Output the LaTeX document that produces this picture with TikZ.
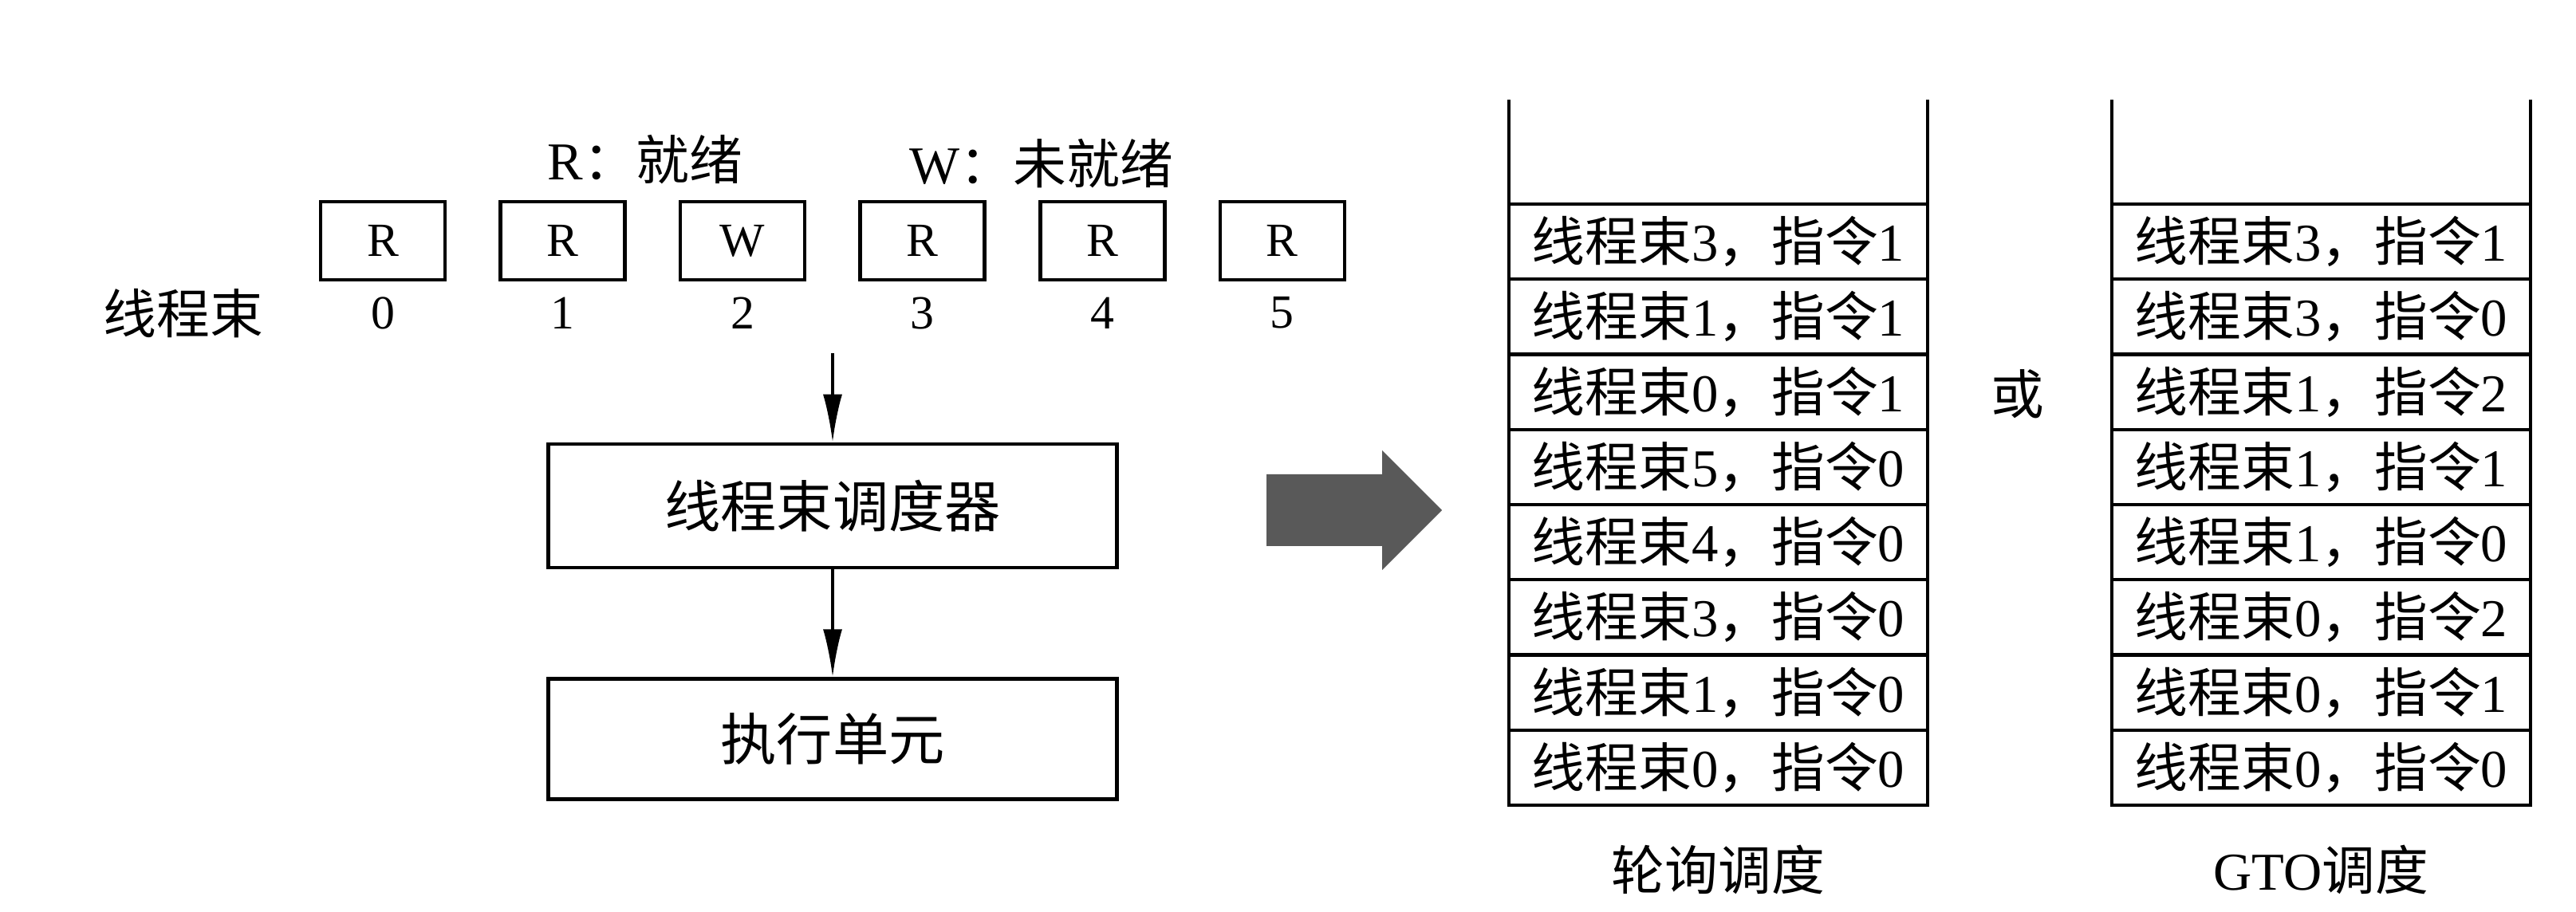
\documentclass[tikz,border=0pt]{standalone}
\usepackage{fontspec}
\setmainfont{Liberation Serif}
\newfontfamily\cjk{Noto Sans CJK SC}
\usepackage{tikz}
\usetikzlibrary{arrows.meta, positioning, calc}
\tikzstyle{arrow} = [line width=1pt, -{Latex[length=6mm,width=2.4mm]}]
\newcommand{\hz}[1]{{\cjk #1}}
\newcommand{\wi}[2]{\hz{线程束}#1\hz{，指令}#2}

\begin{document}
\begin{tikzpicture}[
	warp/.style={rectangle, draw=black, line width=1.3pt, minimum width=1.56cm, minimum height=0.98cm, font=\fontsize{17pt}{20pt}\selectfont},
	idx/.style={font=\fontsize{17pt}{20pt}\selectfont},
	unit/.style={rectangle, draw=black, line width=1.3pt, minimum width=7.13cm, font=\fontsize{20pt}{24pt}\selectfont\cjk},
	slot/.style={rectangle, draw=black, line width=1.2pt, minimum width=5.25cm, minimum height=0.9425cm, outer sep=0pt, inner sep=0pt, font=\fontsize{19pt}{22pt}\selectfont},
	txt/.style={font=\fontsize{19pt}{22pt}\selectfont}
]
\useasboundingbox (0,0) rectangle (32.30,-11.44);

% Warps and their states
\node[warp] (W0) at (4.80,-3.02) {R};
\node[warp, right=0.65cm of W0] (W1) {R};
\node[warp, right=0.65cm of W1] (W2) {W};
\node[warp, right=0.65cm of W2] (W3) {R};
\node[warp, right=0.65cm of W3] (W4) {R};
\node[warp, right=0.65cm of W4] (W5) {R};
\node[idx, below=0.07cm of W0] (N0) {0};
\node[idx, below=0.07cm of W1] (N1) {1};
\node[idx, below=0.07cm of W2] (N2) {2};
\node[idx, below=0.07cm of W3] (N3) {3};
\node[idx, below=0.07cm of W4] (N4) {4};
\node[idx, below=0.07cm of W5] (N5) {5};
\node[txt, left=1.1cm of N0] (L) {\hz{线程束}};
\node[txt] (KR) at (8.09,-2.00) {R\hz{：就绪}};
\node[txt] (KW) at (13.06,-2.05) {W\hz{：未就绪}};

% Scheduler and execution unit
\node[unit, minimum height=1.55cm] (S) at (10.44,-6.345) {线程束调度器};
\node[unit, minimum height=1.51cm, below=1.35cm of S] (E) {执行单元};
\coordinate (in) at ($(S.north)+(0,1.12)$);
\draw[arrow] (in) -- (S);
\draw[arrow] (S) -- (E);

% Big arrow
\fill[black!65] (15.88,-5.95) -- (17.33,-5.95) -- (17.33,-5.65) -- (18.08,-6.40)
	-- (17.33,-7.15) -- (17.33,-6.85) -- (15.88,-6.85) -- cycle;

% Round-robin order
\node[slot] (A1) at (21.545,-3.031) {\wi{3}{1}};
\node[slot, below=0pt of A1] (A2) {\wi{1}{1}};
\node[slot, below=0pt of A2] (A3) {\wi{0}{1}};
\node[slot, below=0pt of A3] (A4) {\wi{5}{0}};
\node[slot, below=0pt of A4] (A5) {\wi{4}{0}};
\node[slot, below=0pt of A5] (A6) {\wi{3}{0}};
\node[slot, below=0pt of A6] (A7) {\wi{1}{0}};
\node[slot, below=0pt of A7] (A8) {\wi{0}{0}};
\draw[line width=1.2pt] (A1.north west) -- ++(0,1.31);
\draw[line width=1.2pt] (A1.north east) -- ++(0,1.31);
\node[txt, below=0.38cm of A8] (RR) {\hz{轮询调度}};

\node[txt] (or) at (25.30,-4.94) {\hz{或}};

% GTO order
\node[slot] (B1) at (29.105,-3.031) {\wi{3}{1}};
\node[slot, below=0pt of B1] (B2) {\wi{3}{0}};
\node[slot, below=0pt of B2] (B3) {\wi{1}{2}};
\node[slot, below=0pt of B3] (B4) {\wi{1}{1}};
\node[slot, below=0pt of B4] (B5) {\wi{1}{0}};
\node[slot, below=0pt of B5] (B6) {\wi{0}{2}};
\node[slot, below=0pt of B6] (B7) {\wi{0}{1}};
\node[slot, below=0pt of B7] (B8) {\wi{0}{0}};
\draw[line width=1.2pt] (B1.north west) -- ++(0,1.31);
\draw[line width=1.2pt] (B1.north east) -- ++(0,1.31);
\node[txt, below=0.38cm of B8] (GT) {GTO\hz{调度}};

\end{tikzpicture}
\end{document}
